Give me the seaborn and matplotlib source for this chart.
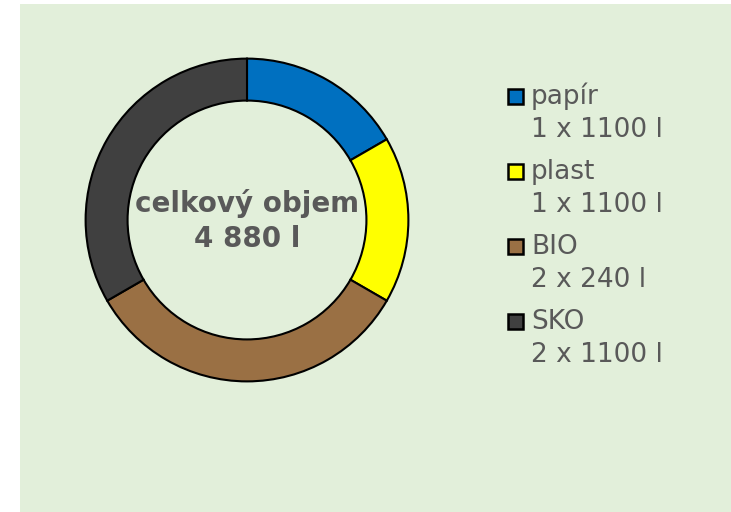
import matplotlib.pyplot as plt
import seaborn as sns
from matplotlib.patches import Rectangle

# data
kategorie = ["papír", "plast", "BIO", "SKO"]
pocet_nadob = [1, 1, 2, 2]
objem_nadoby = [1100, 1100, 240, 1100]
barvy = ["#0070C0", "#FFFF00", "#9A7044", "#404040"]

sns.set_style("white")
plt.rcParams['font.family'] = ['DejaVu Sans']

W, H = 731, 512
fig = plt.figure(figsize=(W / 100, H / 100), dpi=100)
fig.patch.set_facecolor("white")

# zelene pozadi
fig.patches.append(Rectangle((20 / W, 0), 1 - 20 / W, 508 / H, transform=fig.transFigure,
                             facecolor="#E2EFDA", edgecolor="none", zorder=-5))

# prstenec
ax = fig.add_axes([84 / W, 129 / H, 326 / W, 326 / H])
ax.set_facecolor("none")
wedges, _ = ax.pie(pocet_nadob, colors=barvy, startangle=90, counterclock=False,
                   radius=1, wedgeprops=dict(width=0.26, edgecolor="black", linewidth=1.5))
ax.set_xlim(-1.01, 1.01)
ax.set_ylim(-1.01, 1.01)
ax.set_aspect("equal")
ax.axis("off")

celkem = sum(p * v for p, v in zip(pocet_nadob, objem_nadoby))
celkem_txt = f"{celkem:,}".replace(",", " ")
fig.text(247 / W, 1 - 212 / H, "celkový objem", ha="center", va="baseline",
         fontsize=20, fontweight="bold", color="#595959")
fig.text(247 / W, 1 - 247 / H, f"{celkem_txt} l", ha="center", va="baseline",
         fontsize=20, fontweight="bold", color="#595959")

# legenda
for i, (k, p, v, c) in enumerate(zip(kategorie, pocet_nadob, objem_nadoby, barvy)):
    base = 104.3 + i * 75
    fig.patches.append(Rectangle((508.5 / W, 1 - (base - 0.5) / H), 15 / W, 15 / H,
                                 transform=fig.transFigure, facecolor=c,
                                 edgecolor="black", linewidth=1.8, zorder=3))
    fig.text(531 / W, 1 - base / H, k, ha="left", va="baseline", fontsize=19, color="#595959")
    fig.text(531 / W, 1 - (base + 32.4) / H, f"{p} x {v} l", ha="left", va="baseline",
             fontsize=19, color="#595959")

plt.savefig("out.png", dpi=100)
